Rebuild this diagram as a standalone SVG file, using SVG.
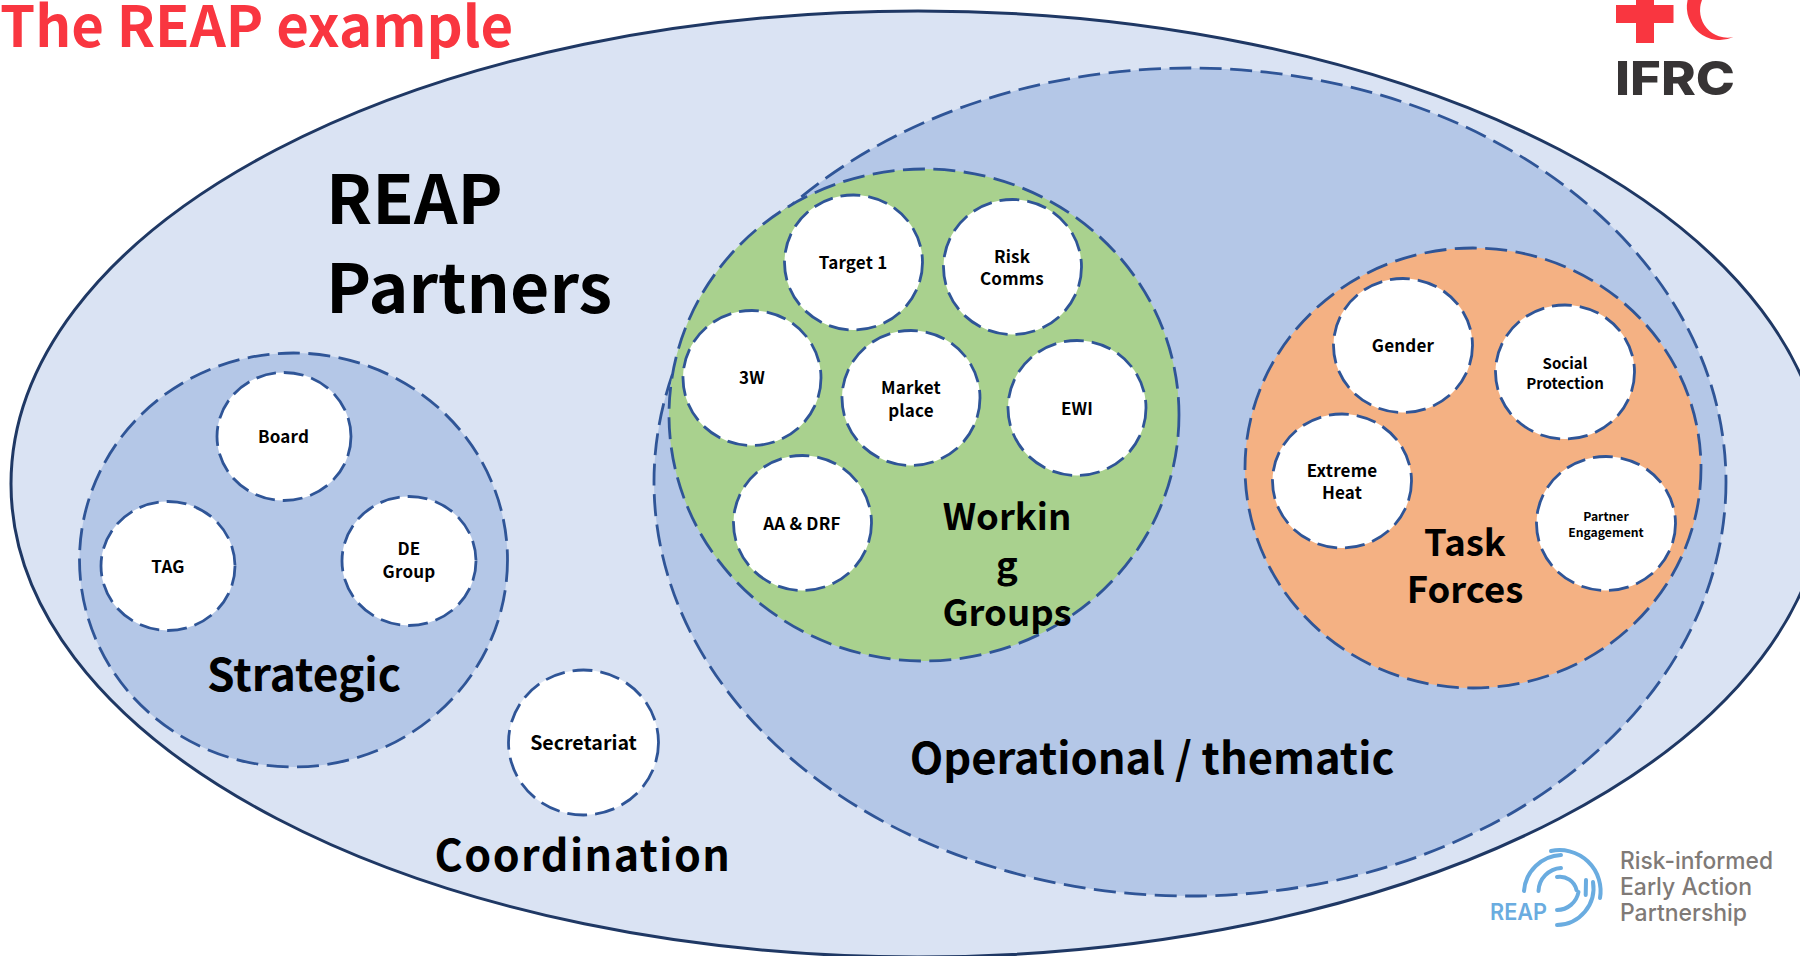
<svg xmlns="http://www.w3.org/2000/svg" width="1800" height="956" viewBox="0 0 1800 956">
<style>
text{font-family:"Noto Sans CJK SC","Noto Sans",sans-serif;font-weight:700;fill:#000;text-anchor:middle}
.d{stroke:#2f5597;stroke-width:2.800;stroke-dasharray:22 8.500}
.c{stroke:#2f5597;stroke-width:2.800;stroke-dasharray:20 8;fill:#fff}
.s{font-size:17px;letter-spacing:.2px}
.l{font-size:43.500px}
.m{font-size:36.500px}
.a{fill:none;stroke:#6aace0;stroke-width:4;stroke-linecap:round}
.g{font-family:"Inter","Open Sans",sans-serif;font-weight:500;fill:#7f7a77;font-size:24px;text-anchor:start}
</style>
<rect width="1800" height="956" fill="#fff"/>
<g id="partners"><ellipse cx="918" cy="484" rx="907" ry="473" fill="#dae3f3" stroke="#1f3864" stroke-width="3"/></g>
<g id="title"><text x="0" y="47" style="font-size:56.300px;fill:#f93640;text-anchor:start">The REAP example</text></g>
<g id="partners-label"><text x="326" y="224" style="font-size:67.800px;text-anchor:start">REAP</text><text x="326" y="313" style="font-size:67.800px;text-anchor:start">Partners</text></g>
<g id="operational"><ellipse cx="1190" cy="482" rx="536" ry="414" fill="#b4c7e7" class="d"/><text x="1152" y="774" class="l">Operational / thematic</text></g>
<g id="strategic"><ellipse cx="293.500" cy="560" rx="214" ry="207" fill="#b4c7e7" class="d"/><text x="304" y="691" style="font-size:44.200px">Strategic</text></g>
<g id="working-groups"><ellipse cx="924" cy="415" rx="255" ry="246" fill="#a9d18e" class="d"/><text x="1007" y="530" class="m">Workin</text><text x="1007" y="578" class="m">g</text><text x="1007" y="626" class="m">Groups</text></g>
<g id="task-forces"><ellipse cx="1473" cy="468" rx="228" ry="220" fill="#f4b183" class="d"/><text x="1465" y="556" class="m">Task</text><text x="1465" y="603" class="m">Forces</text></g>
<g id="board"><ellipse cx="284" cy="436.500" rx="67" ry="64" class="c"/><text x="283.500" y="443" class="s">Board</text></g>
<g id="tag"><ellipse cx="168" cy="566" rx="67" ry="64.500" class="c"/><text x="168" y="573" class="s">TAG</text></g>
<g id="de-group"><ellipse cx="409" cy="561" rx="67" ry="64.500" class="c"/><text x="409" y="555" class="s">DE</text><text x="409" y="578" class="s">Group</text></g>
<g id="secretariat"><ellipse cx="583.500" cy="742.500" rx="75" ry="72.500" class="c"/><text x="583.500" y="750" style="font-size:19.600px">Secretariat</text></g>
<g id="coordination"><text x="583" y="871" style="font-size:43px;letter-spacing:1.5px">Coordination</text></g>
<g id="target-1"><ellipse cx="853.500" cy="262.500" rx="69" ry="67.500" class="c"/><text x="853" y="269" class="s">Target 1</text></g>
<g id="risk-comms"><ellipse cx="1012.500" cy="267" rx="69" ry="67.500" class="c"/><text x="1012" y="263" class="s">Risk</text><text x="1012" y="285" class="s">Comms</text></g>
<g id="w3"><ellipse cx="752" cy="378" rx="69" ry="67.500" class="c"/><text x="752" y="384" class="s">3W</text></g>
<g id="marketplace"><ellipse cx="911" cy="398" rx="69" ry="67.500" class="c"/><text x="911" y="394" class="s">Market</text><text x="911" y="417" class="s">place</text></g>
<g id="ewi"><ellipse cx="1077" cy="408" rx="69" ry="67.500" class="c"/><text x="1077" y="415" class="s">EWI</text></g>
<g id="aa-drf"><ellipse cx="802.500" cy="523" rx="69" ry="67.500" class="c"/><text x="802" y="530" class="s">AA &amp; DRF</text></g>
<g id="gender"><ellipse cx="1403" cy="345.500" rx="69.500" ry="67" class="c"/><text x="1403" y="352" class="s">Gender</text></g>
<g id="social-protection"><ellipse cx="1565" cy="372" rx="69.500" ry="67" class="c"/><text x="1565" y="369" style="font-size:15px">Social</text><text x="1565" y="389" style="font-size:15px">Protection</text></g>
<g id="extreme-heat"><ellipse cx="1342" cy="481" rx="69.500" ry="67" class="c"/><text x="1342" y="477" class="s">Extreme</text><text x="1342" y="499" class="s">Heat</text></g>
<g id="partner-engagement"><ellipse cx="1606" cy="523.500" rx="69.500" ry="67" class="c"/><text x="1606" y="521" style="font-size:12.200px">Partner</text><text x="1606" y="537" style="font-size:12.200px">Engagement</text></g>
<g id="ifrc-logo">
<path d="M1636 0H1654V5H1673.500V23H1654V43H1636V23H1616V5H1636Z" fill="#f93640"/>
<path d="M1687.600 0A33 33 0 0 0 1733.500 37A27.500 27.500 0 0 1 1702 0Z" fill="#f93640"/>
<text x="1615" y="95" textLength="120" lengthAdjust="spacingAndGlyphs" style="font-family:Inter,sans-serif;font-weight:800;font-size:47px;fill:#373435;text-anchor:start">IFRC</text>
</g>
<g id="reap-logo">
<path class="a" d="M1551 851A41 41 0 0 1 1600 898"/>
<path class="a" d="M1557 925A37 37 0 0 0 1593 882"/>
<path class="a" d="M1524 891A39 39 0 0 1 1561 855"/>
<path class="a" d="M1538.500 891A24 24 0 0 1 1561 868"/>
<path class="a" d="M1557 877A17 17 0 0 1 1576.500 890"/>
<path class="a" d="M1557 910A22 22 0 0 0 1578.500 892"/>
<path class="a" d="M1586 880L1585.700 895"/>
<text x="1490" y="920" textLength="57" lengthAdjust="spacingAndGlyphs" style="font-family:Inter,sans-serif;font-weight:600;font-size:23px;fill:#6aace0;text-anchor:start">REAP</text>
<text class="g" x="1620" y="869" textLength="153" lengthAdjust="spacingAndGlyphs">Risk-informed</text>
<text class="g" x="1620" y="895" textLength="132" lengthAdjust="spacingAndGlyphs">Early Action</text>
<text class="g" x="1620" y="921" textLength="127" lengthAdjust="spacingAndGlyphs">Partnership</text>
</g>
</svg>
